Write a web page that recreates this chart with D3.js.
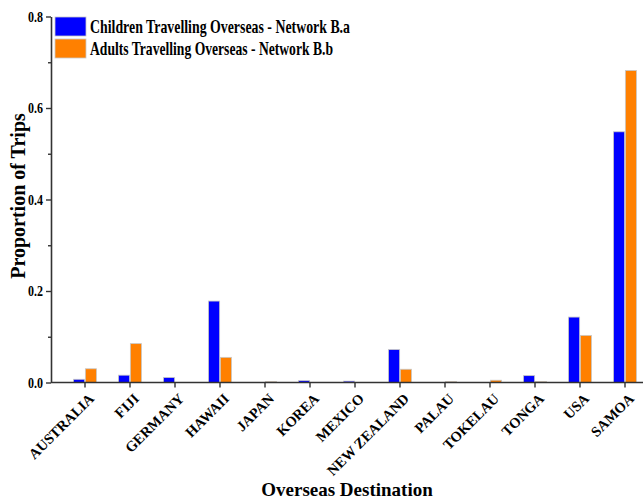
<!DOCTYPE html>
<html>
<head>
<meta charset="utf-8">
<script src="https://cdn.jsdelivr.net/npm/d3@7"></script>
<style>
  html, body { margin: 0; padding: 0; background: #fff; }
  svg text { font-family: "Times New Roman", Times, "Liberation Serif", "DejaVu Serif", serif; font-weight: bold; fill: #000; }
</style>
</head>
<body>
<svg id="chart" width="643" height="500"></svg>
<script>
const categories = ["AUSTRALIA", "FIJI", "GERMANY", "HAWAII", "JAPAN", "KOREA", "MEXICO", "NEW ZEALAND", "PALAU", "TOKELAU", "TONGA", "USA", "SAMOA"];
const seriesNames = ["Children Travelling Overseas - Network B.a", "Adults Travelling Overseas - Network B.b"];
const children = [0.007, 0.016, 0.011, 0.178, 0.0, 0.004, 0.003, 0.072, 0.0, 0.0, 0.015, 0.143, 0.548];
const adults = [0.030, 0.085, 0.0, 0.055, 0.002, 0.0, 0.0, 0.029, 0.002, 0.005, 0.002, 0.103, 0.682];
const majorTicks = [0.0, 0.2, 0.4, 0.6, 0.8];
const minorTicks = [0.1, 0.3, 0.5, 0.7];
const colors = ["#0000ff", "#ff8000"];
const FONT = '"Times New Roman", Times, "Liberation Serif", "DejaVu Serif", serif';

const svg = d3.select("#chart");
const axisLeftX = 51, plotRight = 643;
const y = d3.scaleLinear().domain([0, 0.8]).range([382.5, 16.5]);
const x = d3.scaleBand().domain(categories).range([62.5, 647.5]).padding(0);
const xSub = d3.scaleBand().domain([0, 1])
  .range([x.bandwidth() / 2 - 11.5, x.bandwidth() / 2 + 11.5]).paddingInner(0.06);

const seriesData = [children, adults];

// bars
seriesData.forEach((vals, si) => {
  svg.append("g").selectAll("rect")
    .data(vals.map((v, i) => ({ cat: categories[i], v })))
    .join("rect")
    .attr("x", d => x(d.cat) + xSub(si))
    .attr("width", xSub.bandwidth())
    .attr("y", d => y(d.v))
    .attr("height", d => y(0) - y(d.v))
    .attr("fill", colors[si])
    .attr("stroke", "#c8c8c8")
    .attr("stroke-width", 0.8);
});

// y axis
const yAxis = d3.axisLeft(y).tickValues(majorTicks).tickFormat(d3.format(".1f")).tickSize(5).tickSizeOuter(0).tickPadding(3);
const gy = svg.append("g").attr("transform", `translate(${axisLeftX},0)`).call(yAxis);
gy.select(".domain").attr("stroke", "#333").attr("stroke-width", 1.6);
gy.selectAll(".tick line").attr("stroke", "#333").attr("stroke-width", 1.4);
gy.selectAll(".tick text").style("font-size", "15.5px").style("font-family", FONT).style("font-weight", "bold")
  .attr("textLength", 15).attr("lengthAdjust", "spacingAndGlyphs");
const yMinor = d3.axisLeft(y).tickValues(minorTicks).tickFormat("").tickSize(3).tickSizeOuter(0);
const gym = svg.append("g").attr("transform", `translate(${axisLeftX},0)`).call(yMinor);
gym.select(".domain").remove();
gym.selectAll(".tick line").attr("stroke", "#333").attr("stroke-width", 1.4);

// x axis
const xAxis = d3.axisBottom(x).tickSize(5).tickSizeOuter(0).tickPadding(4);
const gx = svg.append("g").attr("transform", `translate(0,${y(0)})`).call(xAxis);
gx.select(".domain").remove();
gx.append("line").attr("x1", axisLeftX).attr("x2", plotRight).attr("y1", 0).attr("y2", 0)
  .attr("stroke", "#333").attr("stroke-width", 1.6);
gx.selectAll(".tick line").attr("stroke", "#333").attr("stroke-width", 1.4);
gx.selectAll(".tick text")
  .style("font-size", "14.5px").style("font-family", FONT).style("font-weight", "bold")
  .attr("text-anchor", "end")
  .attr("dy", null)
  .attr("x", 10).attr("y", 17)
  .attr("transform", "rotate(-45 10 17)");

// axis titles
svg.append("text").attr("transform", "translate(25,196) rotate(-90)")
  .attr("text-anchor", "middle").style("font-size", "20px").style("font-family", FONT).text("Proportion of Trips");
svg.append("text").attr("x", 347).attr("y", 496)
  .attr("text-anchor", "middle").style("font-size", "19px").style("font-family", FONT).text("Overseas Destination");

// legend
const legendLens = [260, 243];
const legend = svg.append("g");
seriesNames.forEach((name, i) => {
  const g = legend.append("g").attr("transform", `translate(55,${17 + i * 22})`);
  g.append("rect").attr("width", 31).attr("height", 19).attr("fill", colors[i]).attr("stroke", "#c8c8c8").attr("stroke-width", 0.8);
  g.append("text").attr("x", 35).attr("y", 16).style("font-size", "19px").style("font-family", FONT)
    .attr("textLength", legendLens[i]).attr("lengthAdjust", "spacingAndGlyphs").text(name);
});
</script>
</body>
</html>
